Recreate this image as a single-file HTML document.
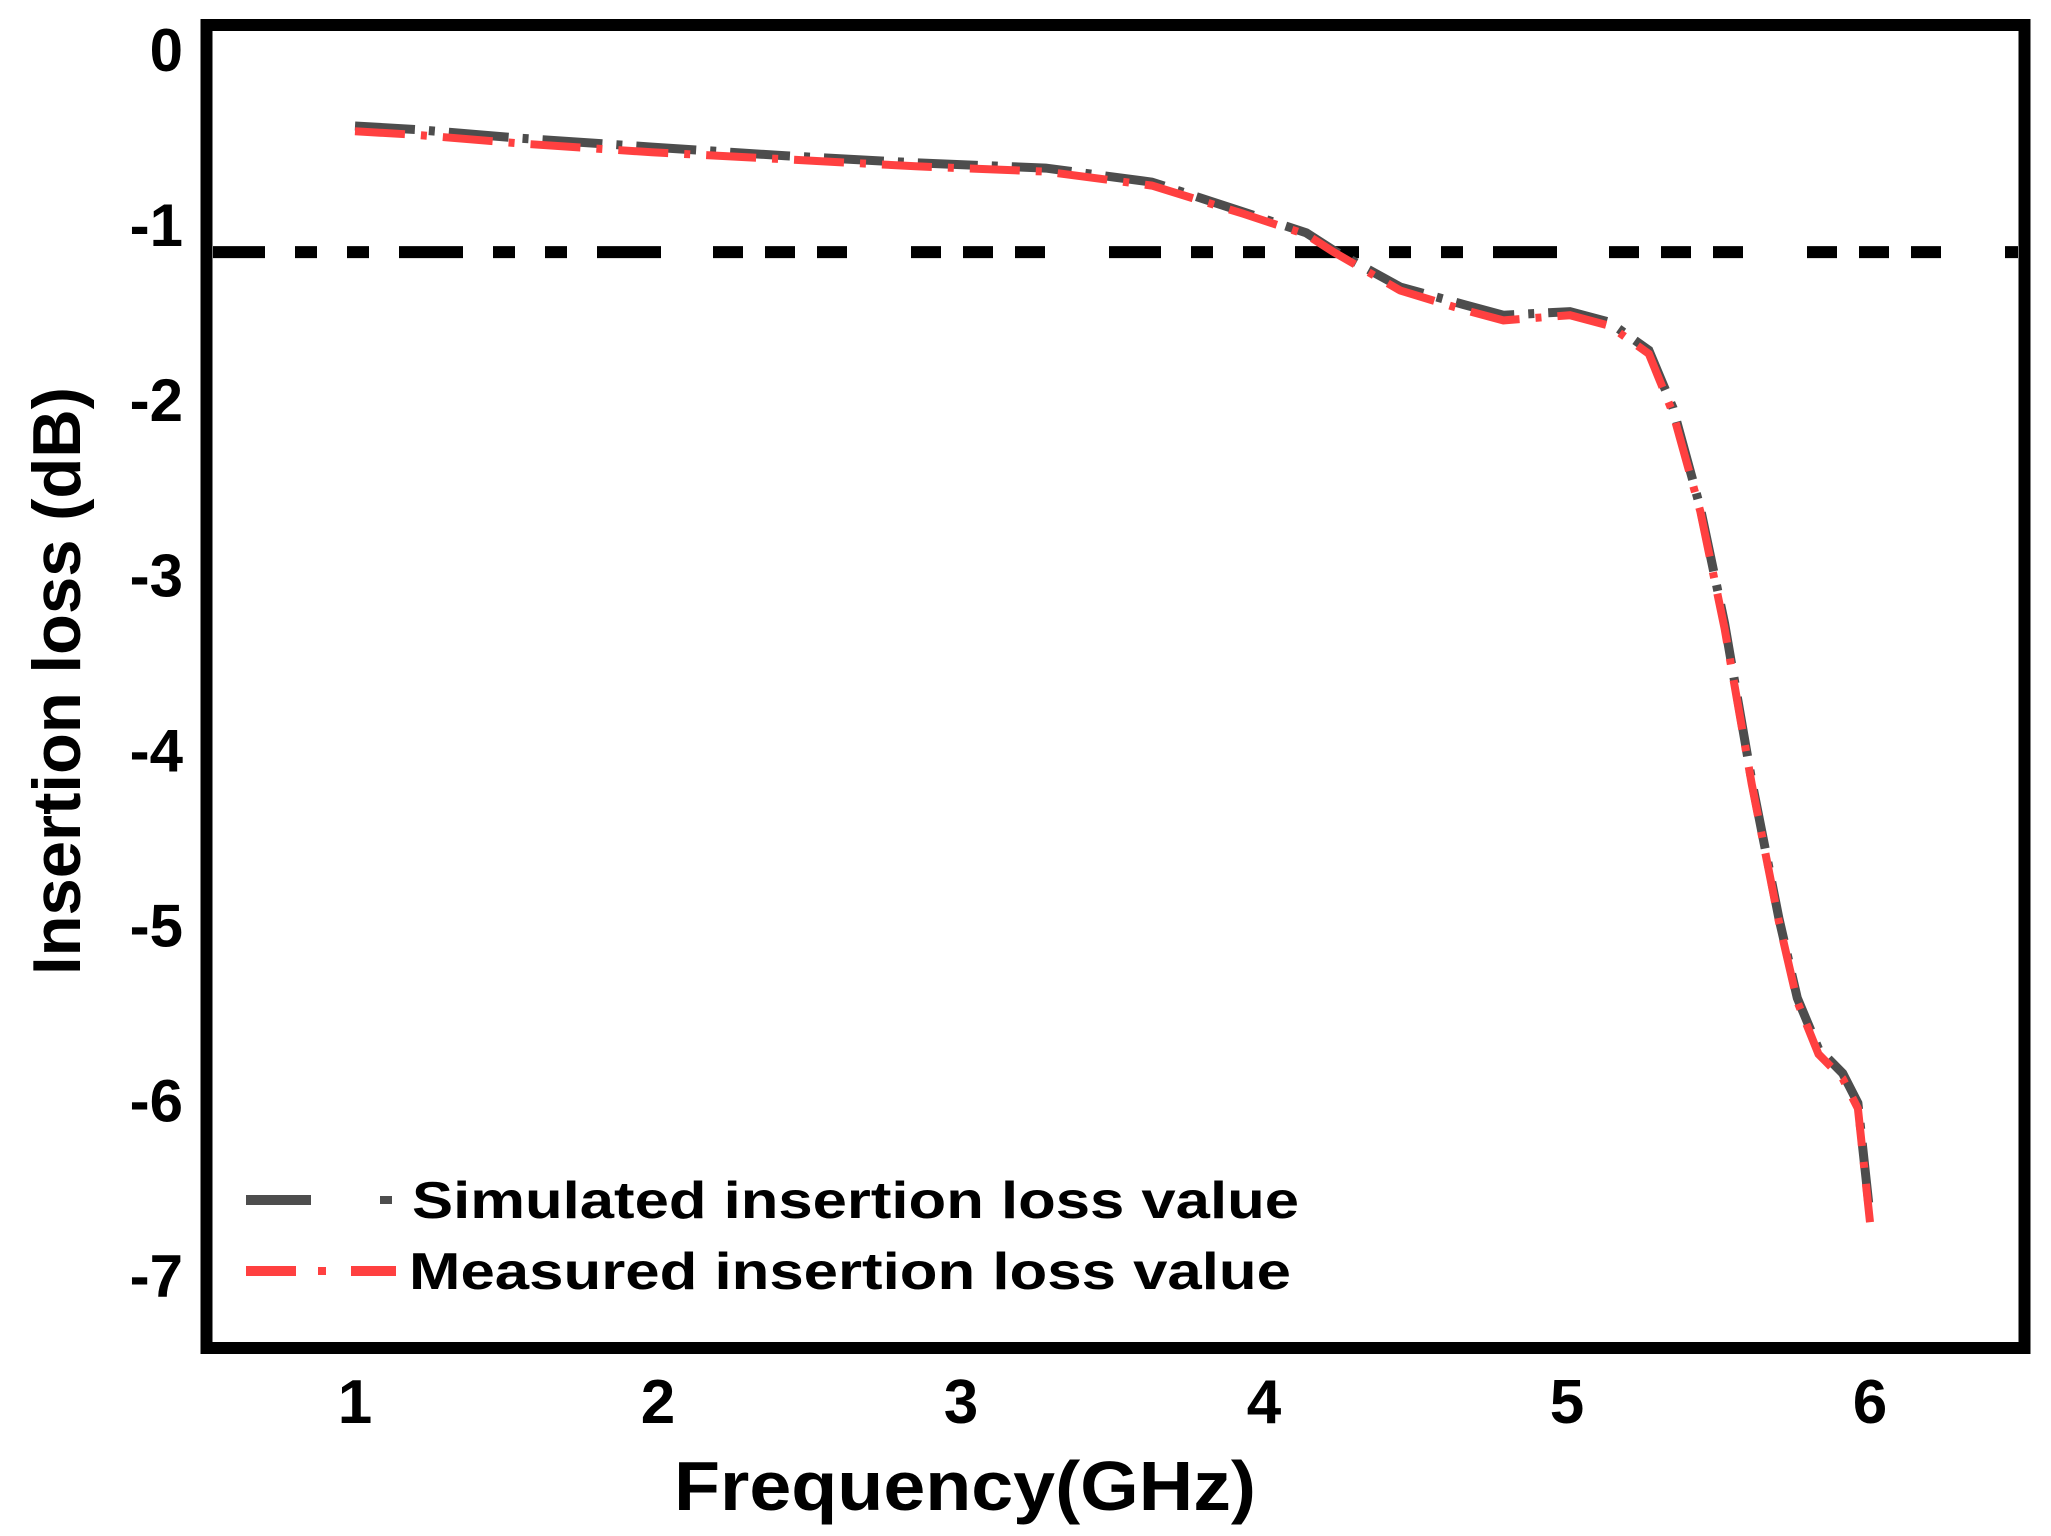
<!DOCTYPE html>
<html><head><meta charset="utf-8"><style>
html,body{margin:0;padding:0;background:#fff}
svg{display:block}
text{font-family:"Liberation Sans",Arial,sans-serif;font-weight:bold;fill:#000}
</style></head><body>
<svg id="chart" width="2051" height="1536" viewBox="0 0 2051 1536" xmlns="http://www.w3.org/2000/svg">
<g id="plot"></g>
</svg>
<script>
const freqs = [1.0,1.2,1.55,1.98,2.42,2.85,3.28,3.63,3.93,4.14,4.23,4.45,4.66,4.79,5.01,5.14,5.27,5.35,5.44,5.52,5.61,5.70,5.76,5.83,5.91,5.96,6.0];
const simulated = [-0.44,-0.46,-0.51,-0.56,-0.61,-0.65,-0.68,-0.76,-0.93,-1.05,-1.15,-1.36,-1.46,-1.52,-1.50,-1.56,-1.72,-2.05,-2.62,-3.28,-4.18,-4.97,-5.42,-5.71,-5.85,-6.02,-6.66];
const measured = [-0.47,-0.49,-0.54,-0.59,-0.63,-0.67,-0.70,-0.78,-0.94,-1.06,-1.16,-1.38,-1.49,-1.55,-1.52,-1.58,-1.74,-2.08,-2.64,-3.31,-4.20,-4.99,-5.44,-5.74,-5.88,-6.05,-6.70];
const xTicks = [1,2,3,4,5,6];
const yTicks = [0,-1,-2,-3,-4,-5,-6,-7];
const thresholdValue = [-1.16];

const NS = "http://www.w3.org/2000/svg";
const g = document.getElementById('plot');
function X(f){return 355 + (f-1)*303;}
function Y(v){return 49 - v*175.1;}
function el(tag, attrs, parent){
  const e = document.createElementNS(NS, tag);
  for (const k in attrs) e.setAttribute(k, attrs[k]);
  (parent||g).appendChild(e);
  return e;
}

// threshold line
const th = el('line',{x1:213,x2:2018,y1:Y(thresholdValue[0]),y2:Y(thresholdValue[0]),stroke:'#000','stroke-width':12,'stroke-dasharray':'52 30 22 30 22 30 64 30 22 30 22 30 64'});



function pathOf(vals){return freqs.map((f,i)=>(i?'L':'M')+X(f).toFixed(1)+' '+Y(vals[i]).toFixed(1)).join(' ');}
const sim = el('path',{d:pathOf(simulated),fill:'none',stroke:'#4d4d4d','stroke-width':9,'stroke-dasharray':'60 14 6 14'});


const mea = el('path',{d:pathOf(measured),fill:'none',stroke:'#ff4040','stroke-width':8,'stroke-dasharray':'50 16 6 16'});



// frame
const fr = el('rect',{x:206.5,y:25,width:1818,height:1323,fill:'none',stroke:'#000','stroke-width':12});



xTicks.forEach(t=>{
  const e = el('text',{x:X(t),y:1423,'font-size':62,'text-anchor':'middle'});
  e.textContent = String(t);
  
  
});
yTicks.forEach(t=>{
  const e = el('text',{x:183,y:Y(t)+22,'font-size':60,'text-anchor':'end'});
  e.textContent = String(t);
  
  
});

const xt = el('text',{x:965,y:1510,'font-size':70,'text-anchor':'middle',textLength:582,lengthAdjust:'spacingAndGlyphs'});
xt.textContent = 'Frequency(GHz)';


const yt = el('text',{x:0,y:0,'font-size':68,'text-anchor':'middle',textLength:588,lengthAdjust:'spacingAndGlyphs',transform:'translate(80,681) rotate(-90)'});
yt.textContent = 'Insertion loss (dB)';



// legend
const l1 = el('g',{});


el('line',{x1:246,x2:311,y1:1200,y2:1200,stroke:'#4d4d4d','stroke-width':10},l1);
el('line',{x1:380,x2:392,y1:1200,y2:1200,stroke:'#4d4d4d','stroke-width':8},l1);
const t1 = el('text',{x:412,y:1218,'font-size':52,textLength:887,lengthAdjust:'spacingAndGlyphs'},l1);
t1.textContent = 'Simulated insertion loss value';
const l2 = el('g',{});


el('line',{x1:246,x2:296,y1:1271,y2:1271,stroke:'#ff4040','stroke-width':10},l2);
el('line',{x1:318,x2:326,y1:1271,y2:1271,stroke:'#ff4040','stroke-width':8},l2);
el('line',{x1:351,x2:396,y1:1271,y2:1271,stroke:'#ff4040','stroke-width':10},l2);
const t2 = el('text',{x:409,y:1289,'font-size':52,textLength:882,lengthAdjust:'spacingAndGlyphs'},l2);
t2.textContent = 'Measured insertion loss value';
</script>
</body></html>
